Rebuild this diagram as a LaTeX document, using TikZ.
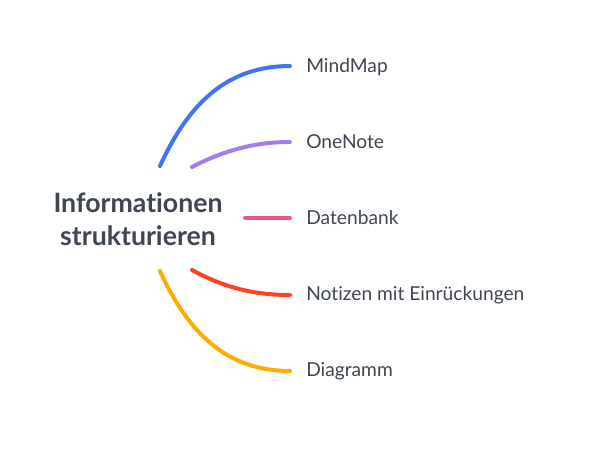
\documentclass[tikz,border=0pt]{standalone}
\usepackage{fontspec}
\setmainfont{Lato}[Ligatures={NoCommon}]
\definecolor{txt}{HTML}{3E4651}
\definecolor{cblue}{HTML}{4272F5}
\definecolor{cpurple}{HTML}{A47CEC}
\definecolor{cpink}{HTML}{EE5488}
\definecolor{cred}{HTML}{FF4121}
\definecolor{cyellow}{HTML}{FFAB00}
\begin{document}
\begin{tikzpicture}[x=0.75pt,y=-0.75pt,
  branch/.style={line width=3pt,line cap=round},
  leaf/.style={anchor=west,inner sep=0pt,text=txt,font=\fontsize{14.4}{16}\selectfont}]
\useasboundingbox (0,0) rectangle (615,454);
\node[text=txt,font=\fontsize{20}{25}\bfseries\selectfont,align=center] (root) at (138,219) {Informationen\\strukturieren};
\coordinate (s1) at (160,166);
\coordinate (s2) at (192,167);
\coordinate (s3) at (245,218);
\coordinate (s4) at (192,270);
\coordinate (s5) at (160,271);
\coordinate (e1) at (290,66);
\coordinate (e2) at (290,142);
\coordinate (e3) at (290,218);
\coordinate (e4) at (290,295);
\coordinate (e5) at (290,371);
\node[leaf] (l1) at (306,67) {MindMap};
\node[leaf] (l2) at (306,142) {OneNote};
\node[leaf] (l3) at (306,218) {Datenbank};
\node[leaf] (l4) at (306,295) {Notizen mit Einrückungen};
\node[leaf] (l5) at (306,371) {Diagramm};
\draw[branch,cblue] (s1) .. controls (190,100) and (230,66) .. (e1);
\draw[branch,cpurple] (s2) .. controls (225,150) and (255,142) .. (e2);
\draw[branch,cpink] (s3) -- (e3);
\draw[branch,cred] (s4) .. controls (225,288) and (255,295) .. (e4);
\draw[branch,cyellow] (s5) .. controls (190,337) and (230,371) .. (e5);
\end{tikzpicture}
\end{document}
